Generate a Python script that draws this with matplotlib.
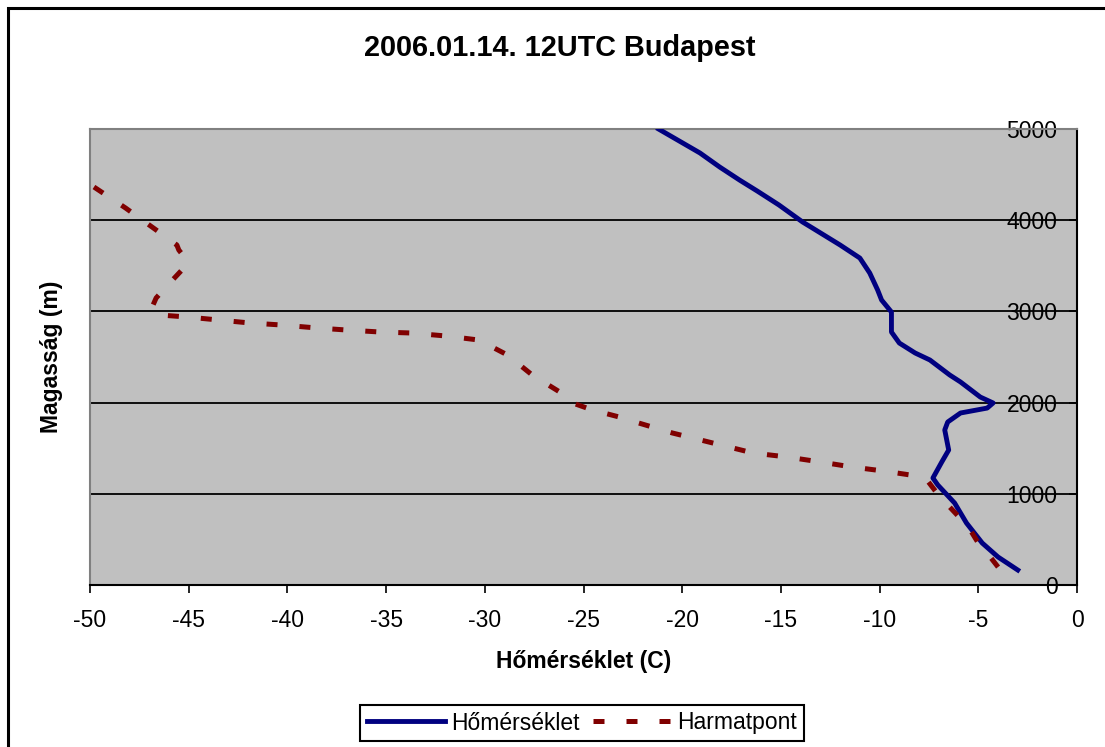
import matplotlib
matplotlib.use("Agg")
import matplotlib.pyplot as plt
from matplotlib.patches import Rectangle

plt.rcParams['font.family'] = ['Liberation Sans', 'DejaVu Sans']

# Hőmérséklet (C) vs magasság (m)
temp_c = [-21.2, -19.1, -18.1, -17.1, -16.2, -15.1, -13.9, -13.4, -12.0, -11.0,
          -10.5, -10.1, -9.9, -9.4, -9.4, -9.0, -8.2, -7.45, -6.45, -5.9,
          -4.9, -4.25, -4.55, -5.9, -6.55, -6.7, -6.6, -6.5, -6.85, -7.3,
          -7.05, -6.2, -5.6, -4.8, -4.0, -3.0]
temp_h = [5000, 4737, 4583, 4441, 4320, 4167, 3980, 3914, 3728, 3585,
          3421, 3235, 3125, 2993, 2774, 2653, 2544, 2467, 2303, 2226,
          2061, 1996, 1940, 1886, 1787, 1700, 1590, 1480, 1349, 1173,
          1096, 899, 680, 460, 307, 164]

# Harmatpont (C) vs magasság (m)
dew_c = [-49.8, -48.2, -46.65, -45.6, -45.5, -45.1, -45.2, -46.15, -46.65, -46.85,
         -46.5, -45.1, -43.5, -41.9, -40.3, -38.5, -37.0, -35.3, -33.7, -31.95,
         -30.3, -28.85, -27.6, -26.2, -25.7, -24.55, -22.8, -22.2, -20.5, -18.45,
         -16.4, -14.7, -13.0, -11.4, -9.8, -8.1, -7.6, -7.1, -6.45, -5.5,
         -5.0, -4.55, -3.8]
dew_h = [4364, 4134, 3893, 3728, 3673, 3564, 3487, 3268, 3147, 3048,
         2961, 2939, 2906, 2873, 2851, 2818, 2796, 2774, 2763, 2730,
         2686, 2522, 2303, 2116, 2007, 1919, 1820, 1776, 1667, 1557,
         1447, 1404, 1349, 1294, 1250, 1195, 1151, 1009, 855, 636,
         460, 350, 142]

x_ticks = [-50, -45, -40, -35, -30, -25, -20, -15, -10, -5, 0]
y_ticks = [0, 1000, 2000, 3000, 4000, 5000]

W, H = 1105, 747
fig = plt.figure(figsize=(W / 100, H / 100), dpi=100)

# outer chart border (partly cropped in the reference)
fig.patches.append(Rectangle((8 / W, -0.1), 1.2, 1 - 8 / H + 0.1,
                             transform=fig.transFigure, fill=False,
                             edgecolor='black', linewidth=2.2))

ax = fig.add_axes([90 / W, 1 - 585 / H, (1077 - 90) / W, (585 - 129) / H])
ax.set_facecolor('#C0C0C0')

for y in y_ticks[1:-1]:
    ax.axhline(y, color='black', linewidth=1.3, zorder=1)

ax.plot(temp_c, temp_h, color='#000080', linewidth=3.5,
        solid_joinstyle='round', label='Hőmérséklet', zorder=3)
ax.plot(dew_c, dew_h, color='#800000', linewidth=3.6,
        dashes=(2.2, 4.4), dash_capstyle='butt', label='Harmatpont', zorder=3)

ax.set_xlim(-50, 0)
ax.set_ylim(0, 5000)
ax.set_xticks(x_ticks)
ax.set_xticklabels([str(v) for v in x_ticks])
ax.set_yticks(y_ticks)

ax.spines['top'].set_color('#808080')
ax.spines['left'].set_color('#808080')
for side in ['top', 'left', 'bottom', 'right']:
    ax.spines[side].set_linewidth(1.5)

ax.tick_params(axis='x', direction='out', length=6, width=1.2,
               labelsize=16.5, pad=11)
ax.yaxis.tick_right()
ax.tick_params(axis='y', direction='in', length=6, width=1.2,
               labelsize=16.5, pad=-14)
for lbl in ax.get_yticklabels():
    lbl.set_horizontalalignment('right')

fig.text(560 / W, 1 - 56 / H, '2006.01.14. 12UTC Budapest', fontsize=20.8,
         fontweight='bold', ha='center', va='baseline')
ax.set_xlabel('Hőmérséklet (C)', fontsize=16.5, fontweight='bold', labelpad=13)
fig.text(52 / W, 1 - 357 / H, 'Magasság (m)', rotation=90, fontsize=16.5,
         fontweight='bold', ha='center', va='center')

leg = ax.legend(loc='center', bbox_to_anchor=(582 / W, 1 - 723 / H),
                bbox_transform=fig.transFigure, ncol=2, fontsize=16.5,
                frameon=True, fancybox=False, framealpha=1,
                edgecolor='black', handlelength=3.4, handletextpad=0.25,
                columnspacing=0.6, borderpad=0.3)
leg.get_frame().set_linewidth(1.5)

fig.savefig('out.png', dpi=100)
